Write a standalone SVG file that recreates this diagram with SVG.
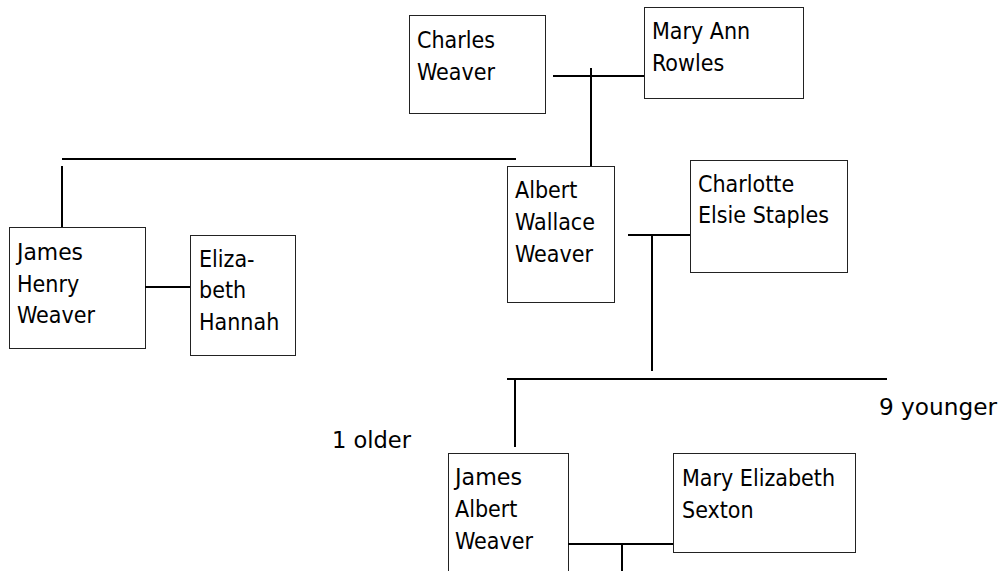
<svg xmlns="http://www.w3.org/2000/svg" width="1001" height="571" viewBox="0 0 1001 571">
<style>
.box{fill:#fff;stroke:#222;stroke-width:1}
.t{font-family:"DejaVu Sans Condensed","DejaVu Sans",sans-serif;font-size:23px;fill:#000}
.c line{stroke:#000;stroke-width:2}
</style>
<rect width="1001" height="571" fill="#fff"/>
<g id="charles"><rect class="box" x="409.5" y="15.5" width="136" height="98"/><text class="t" x="417" y="48">Charles</text><text class="t" x="417" y="80">Weaver</text></g>
<g id="maryann"><rect class="box" x="644.5" y="7.5" width="159" height="91"/><text class="t" x="652" y="39">Mary Ann</text><text class="t" x="652" y="71">Rowles</text></g>
<g id="albert"><rect class="box" x="507.5" y="166.5" width="107" height="136"/><text class="t" x="515" y="198">Albert</text><text class="t" x="515" y="230">Wallace</text><text class="t" x="515" y="262">Weaver</text></g>
<g id="charlotte"><rect class="box" x="690.5" y="160.5" width="157" height="112"/><text class="t" x="698" y="192">Charlotte</text><text class="t" x="698" y="223">Elsie Staples</text></g>
<g id="jameshenry"><rect class="box" x="9.5" y="227.5" width="136" height="121"/><text class="t" x="17" y="260" textLength="66" lengthAdjust="spacingAndGlyphs">James</text><text class="t" x="17" y="292">Henry</text><text class="t" x="17" y="323">Weaver</text></g>
<g id="elizabeth"><rect class="box" x="190.5" y="235.5" width="105" height="120"/><text class="t" x="199" y="267">Eliza-</text><text class="t" x="199" y="298">beth</text><text class="t" x="199" y="330">Hannah</text></g>
<g id="jamesalbert"><rect class="box" x="448.5" y="453.5" width="120" height="130"/><text class="t" x="455" y="485" textLength="67" lengthAdjust="spacingAndGlyphs">James</text><text class="t" x="455" y="517">Albert</text><text class="t" x="455" y="549">Weaver</text></g>
<g id="maryelizabeth"><rect class="box" x="673.5" y="453.5" width="182" height="99"/><text class="t" x="682" y="486">Mary Elizabeth</text><text class="t" x="682" y="518">Sexton</text></g>
<g id="older"><text class="t" x="332" y="448" textLength="79" lengthAdjust="spacingAndGlyphs">1 older</text></g>
<g id="younger"><text class="t" x="879" y="415" textLength="118" lengthAdjust="spacingAndGlyphs">9 younger</text></g>
<g class="c" id="connectors">
<line x1="553" y1="76" x2="644" y2="76"/>
<line x1="591" y1="68" x2="591" y2="166"/>
<line x1="62" y1="159" x2="516" y2="159"/>
<line x1="62" y1="166" x2="62" y2="227"/>
<line x1="145" y1="287" x2="190" y2="287"/>
<line x1="628" y1="235" x2="690" y2="235"/>
<line x1="652" y1="235" x2="652" y2="371"/>
<line x1="507" y1="379" x2="887" y2="379"/>
<line x1="515" y1="379" x2="515" y2="447"/>
<line x1="568" y1="544" x2="673" y2="544"/>
<line x1="622" y1="544" x2="622" y2="571"/>
</g>
</svg>
